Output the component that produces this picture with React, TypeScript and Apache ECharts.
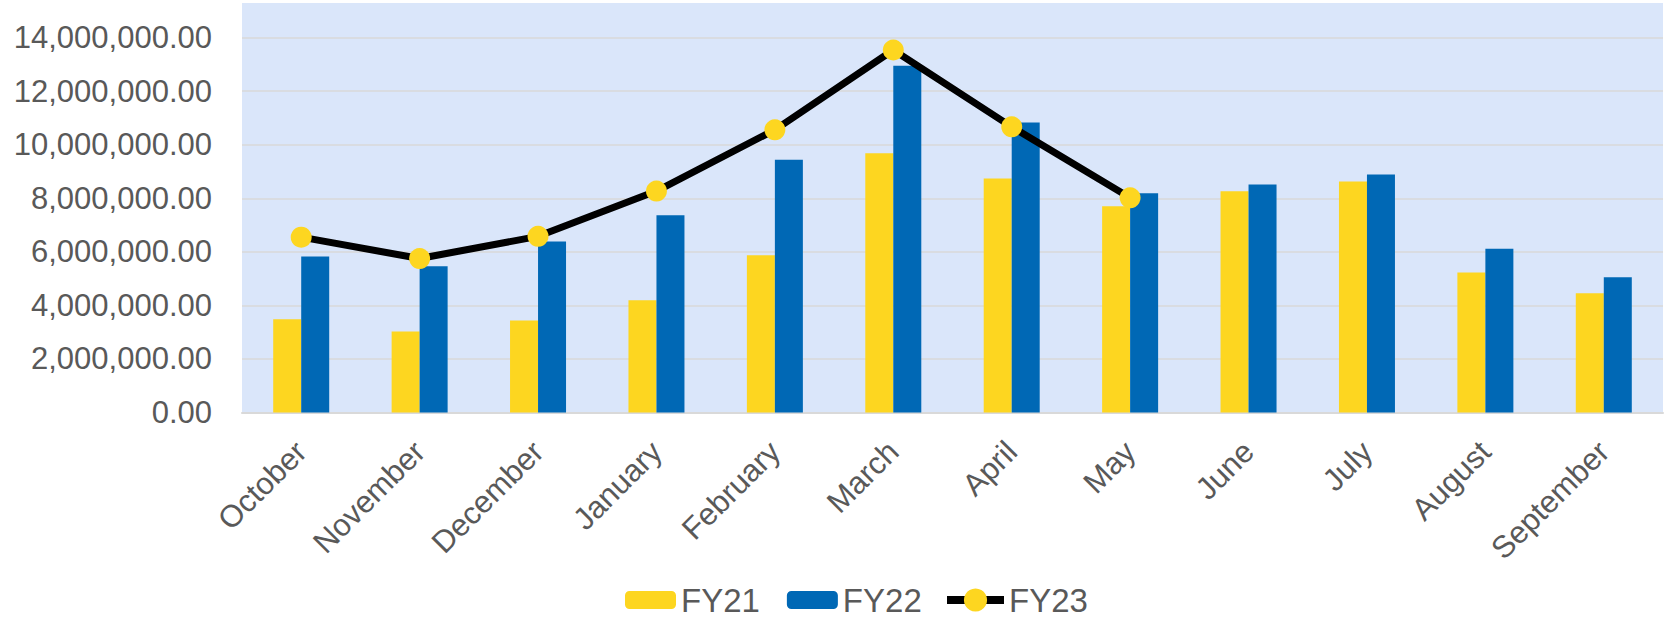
import React, { useEffect, useRef } from "react";
import * as echarts from "echarts";

const months = ["October", "November", "December", "January", "February", "March", "April", "May", "June", "July", "August", "September"];
const fy21 = [3480000, 3030000, 3440000, 4190000, 5870000, 9680000, 8740000, 7700000, 8260000, 8630000, 5230000, 4450000];
const fy22 = [5830000, 5460000, 6390000, 7370000, 9440000, 12950000, 10830000, 8190000, 8520000, 8890000, 6120000, 5050000];
const fy23 = [6550000, 5750000, 6580000, 8270000, 10560000, 13540000, 10670000, 8020000, null, null, null, null];

const YELLOW = "#FDD620";
const BLUE = "#0068B5";
const TEXT = "#595959";
const FONT = 'Arial, "Liberation Sans", sans-serif';

export default function App() {
  const ref = useRef<HTMLDivElement>(null);
  useEffect(() => {
    if (!ref.current) return;
    const chart = echarts.init(ref.current, undefined, { renderer: "svg" });
    const legendText = { color: TEXT, fontSize: 33, fontFamily: FONT, lineHeight: 33 };
    chart.setOption({
      animation: false,
      backgroundColor: "#ffffff",
      graphic: [
        {
          type: "rect",
          z: -100,
          silent: true,
          shape: { x: 242, y: 3, width: 1421, height: 409.5 },
          style: { fill: "#DAE6FA" },
        },
      ],
      grid: { left: 242, right: 4, top: 37.7, bottom: 204.5, containLabel: false },
      legend: [
        {
          left: 625,
          top: 583.5,
          padding: 0,
          itemWidth: 51,
          itemHeight: 18,
          itemGap: 27,
          textStyle: legendText,
          data: ["FY21", "FY22"],
        },
        {
          left: 943,
          top: 583.5,
          padding: 0,
          itemWidth: 57,
          itemHeight: 29,
          textStyle: legendText,
          lineStyle: { width: 8, color: "#000000" },
          data: ["FY23"],
        },
      ],
      xAxis: {
        type: "category",
        data: months,
        axisLine: { show: true, lineStyle: { color: "#D9D9D9", width: 2 } },
        axisTick: { show: false },
        axisLabel: { rotate: 45, margin: 34, color: TEXT, fontSize: 31, fontFamily: FONT, interval: 0 },
      },
      yAxis: {
        type: "value",
        min: 0,
        max: 14000000,
        interval: 2000000,
        axisLine: { show: false },
        axisTick: { show: false },
        splitLine: { lineStyle: { color: "#D9D9D9", width: 1.5 } },
        axisLabel: {
          margin: 30,
          color: TEXT,
          fontSize: 31,
          fontFamily: FONT,
          formatter: (v: number) => v.toLocaleString("en-US", { minimumFractionDigits: 2, maximumFractionDigits: 2 }),
        },
      },
      series: [
        { name: "FY21", type: "bar", data: fy21, barWidth: 28, barGap: "0%", itemStyle: { color: YELLOW } },
        { name: "FY22", type: "bar", data: fy22, barWidth: 28, barGap: "0%", itemStyle: { color: BLUE } },
        {
          name: "FY23",
          type: "line",
          data: fy23,
          symbol: "circle",
          symbolSize: 21,
          lineStyle: { color: "#000000", width: 7 },
          itemStyle: { color: YELLOW },
          z: 5,
        },
      ],
    });
    return () => chart.dispose();
  }, []);
  return <div ref={ref} style={{ position: "fixed", left: 0, top: 0, width: 1667, height: 617 }} />;
}
